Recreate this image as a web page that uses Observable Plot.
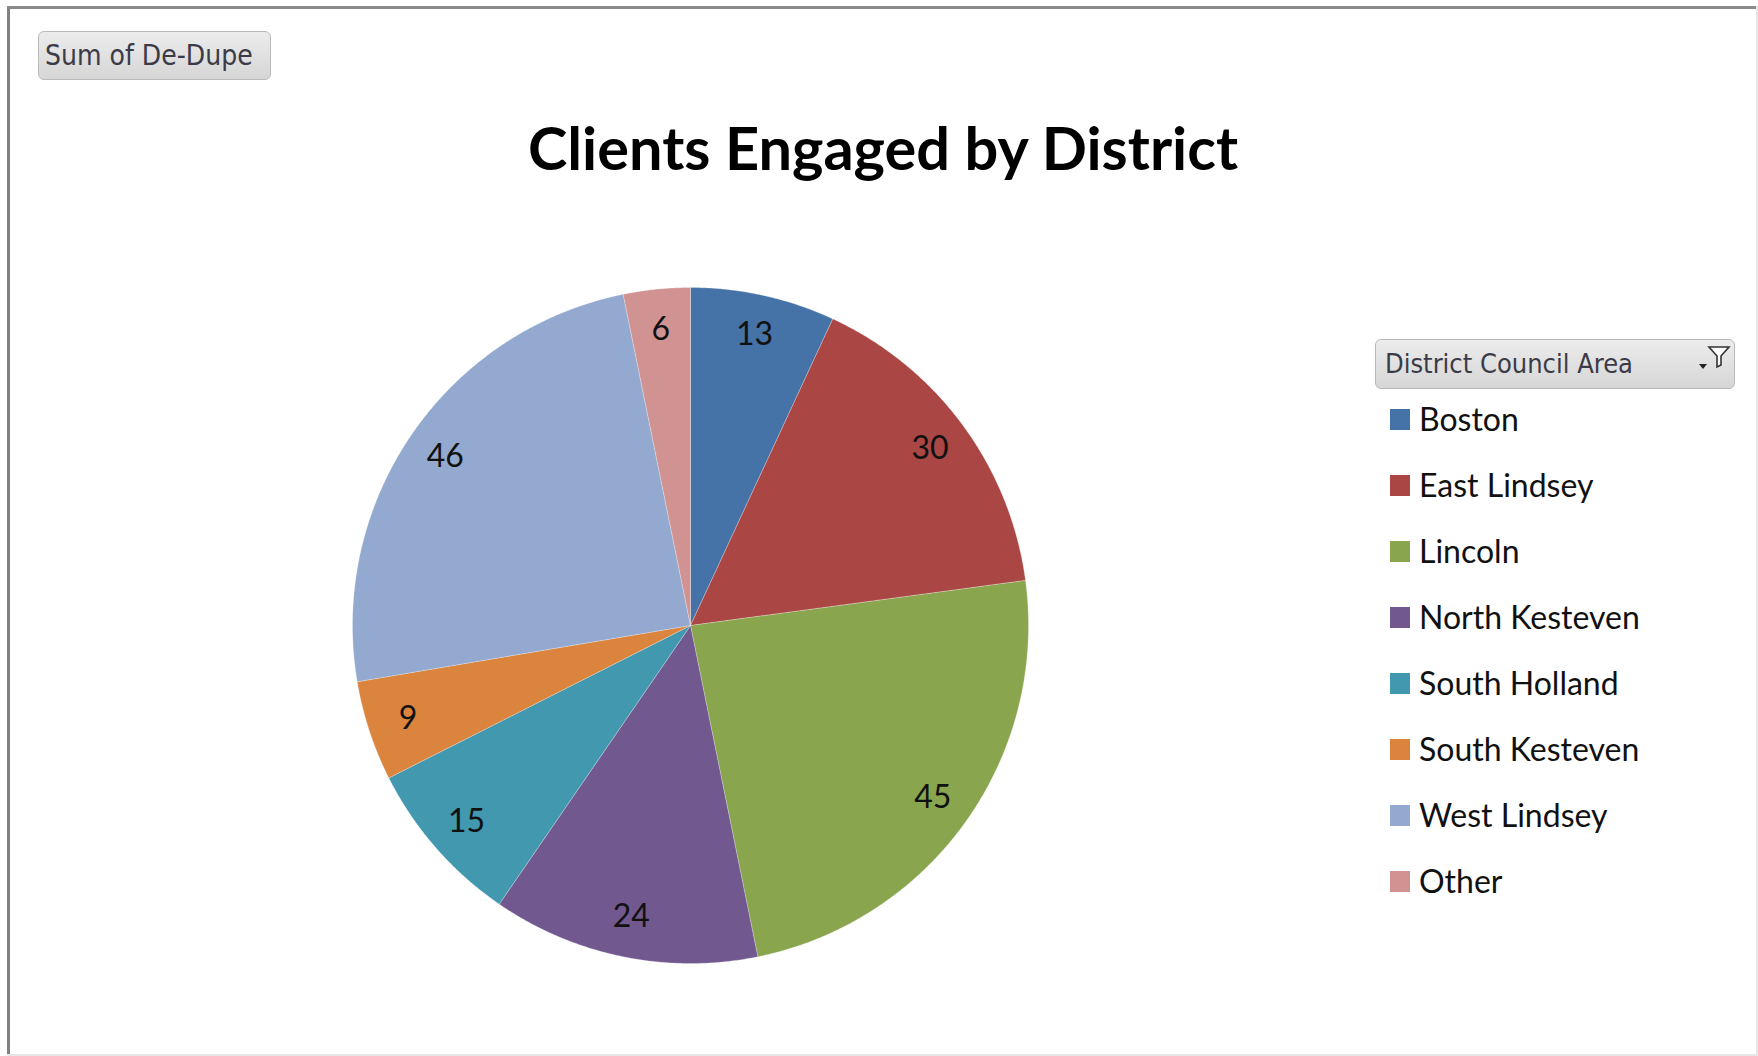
<!DOCTYPE html>
<html><head><meta charset="utf-8">
<script src="https://cdn.jsdelivr.net/npm/d3@7"></script>
<script src="https://cdn.jsdelivr.net/npm/@observablehq/plot@0.6"></script>
<style>
html,body{margin:0;padding:0;background:#fff;}
#frame{position:relative;width:1758px;height:1056px;overflow:hidden;background:#fff;}
#bl{position:absolute;left:7px;top:6px;width:3px;height:1050px;background:#808080;}
#bt{position:absolute;left:7px;top:6px;width:1751px;height:3px;background:#8a8a8a;}
#br{position:absolute;left:1756px;top:6px;width:2px;height:1050px;background:#e6e6e6;}
#bb{position:absolute;left:7px;top:1054px;width:1751px;height:2px;background:#e6e6e6;}
#chart{position:absolute;left:0;top:0;}
.btn{position:absolute;box-sizing:border-box;border:1px solid #b9b9b9;border-radius:6px;
 background:linear-gradient(#ececec,#d6d6d6);color:#3b3b48;font-family:"DejaVu Sans Condensed","DejaVu Sans",sans-serif;}
#field{left:38px;top:31px;width:233px;height:49px;font-size:28px;line-height:47px;padding-left:6px;}
#lhead{left:1375px;top:339px;width:360px;height:50px;font-size:27px;line-height:48px;padding-left:9px;}
#title{position:absolute;left:0;width:1766px;top:111px;text-align:center;font-family:Lato,sans-serif;font-weight:bold;font-size:59.5px;color:#000;}
#legend{position:absolute;left:1390px;top:399px;font-family:Lato,sans-serif;font-size:32px;color:#111;}
.item{height:66px;display:flex;align-items:flex-start;}
.sw{width:20px;height:21px;margin-top:10px;margin-right:9px;}
</style></head><body><div id="frame">
<div id="chart"></div>
<div id="bl"></div><div id="bt"></div><div id="br"></div><div id="bb"></div>
<div id="field" class="btn"></div>
<div id="title"></div>
<div id="lhead" class="btn"></div>
<div id="legend"></div>
</div>
<script>
const districts = ["Boston","East Lindsey","Lincoln","North Kesteven","South Holland","South Kesteven","West Lindsey","Other"];
const clients = [13,30,45,24,15,9,46,6];
const colors = ["#4572A7","#AA4643","#89A54E","#71588F","#4198AF","#DB843D","#93A9CF","#D19392"];
const chartTitle = "Clients Engaged by District";
const fieldLabel = "Sum of De-Dupe";
const legendTitle = "District Council Area";

const total = d3.sum(clients);
let acc = 0;
const slices = [], labels = [];
districts.forEach((name, i) => {
  const a0 = acc / total * 2 * Math.PI; acc += clients[i]; const a1 = acc / total * 2 * Math.PI;
  const n = Math.max(4, Math.ceil((a1 - a0) / 0.005));
  slices.push({name, x: 0, y: 0});
  for (let k = 0; k <= n; k++) { const a = a0 + (a1 - a0) * k / n; slices.push({name, x: Math.sin(a), y: Math.cos(a)}); }
  slices.push({name, x: 0, y: 0});
  const am = (a0 + a1) / 2;
  labels.push({name, value: clients[i], x: 0.88 * Math.sin(am), y: 0.88 * Math.cos(am)});
});

const plot = Plot.plot({
  width: 1758, height: 1056, margin: 0,
  x: {domain: [-1, 1], range: [352, 1028], axis: null},
  y: {domain: [-1, 1], range: [963, 287], axis: null},
  color: {domain: districts, range: colors},
  style: {background: "transparent"},
  marks: [
    Plot.line(slices, {x: "x", y: "y", z: "name", fill: "name", stroke: "#ffffff", strokeWidth: 0.5, strokeOpacity: 0.5, curve: "linear"}),
    Plot.text(labels, {x: "x", y: "y", text: "value", fontSize: 32, fontFamily: "Lato, sans-serif", fill: "#111"})
  ]
});
document.getElementById("chart").appendChild(plot);

document.getElementById("title").textContent = chartTitle;
document.getElementById("field").textContent = fieldLabel;
const lh = document.getElementById("lhead");
lh.innerHTML = "";
const lt = document.createElement("span"); lt.textContent = legendTitle; lh.appendChild(lt);
lh.insertAdjacentHTML("beforeend", '<svg width="34" height="34" style="position:absolute;right:3px;top:2px" viewBox="0 0 34 34"><path d="M12 5 L32 5 L24 14 L24 23 L20 25 L20 14 Z" fill="#fff" stroke="#333" stroke-width="1.6"/><path d="M2 22 L10 22 L6 27 Z" fill="#222"/></svg>');
const lg = document.getElementById("legend");
districts.forEach((d, i) => {
  const it = document.createElement("div"); it.className = "item";
  const sw = document.createElement("div"); sw.className = "sw"; sw.style.background = colors[i];
  const tx = document.createElement("span"); tx.textContent = d;
  it.appendChild(sw); it.appendChild(tx); lg.appendChild(it);
});
</script>
</body></html>
